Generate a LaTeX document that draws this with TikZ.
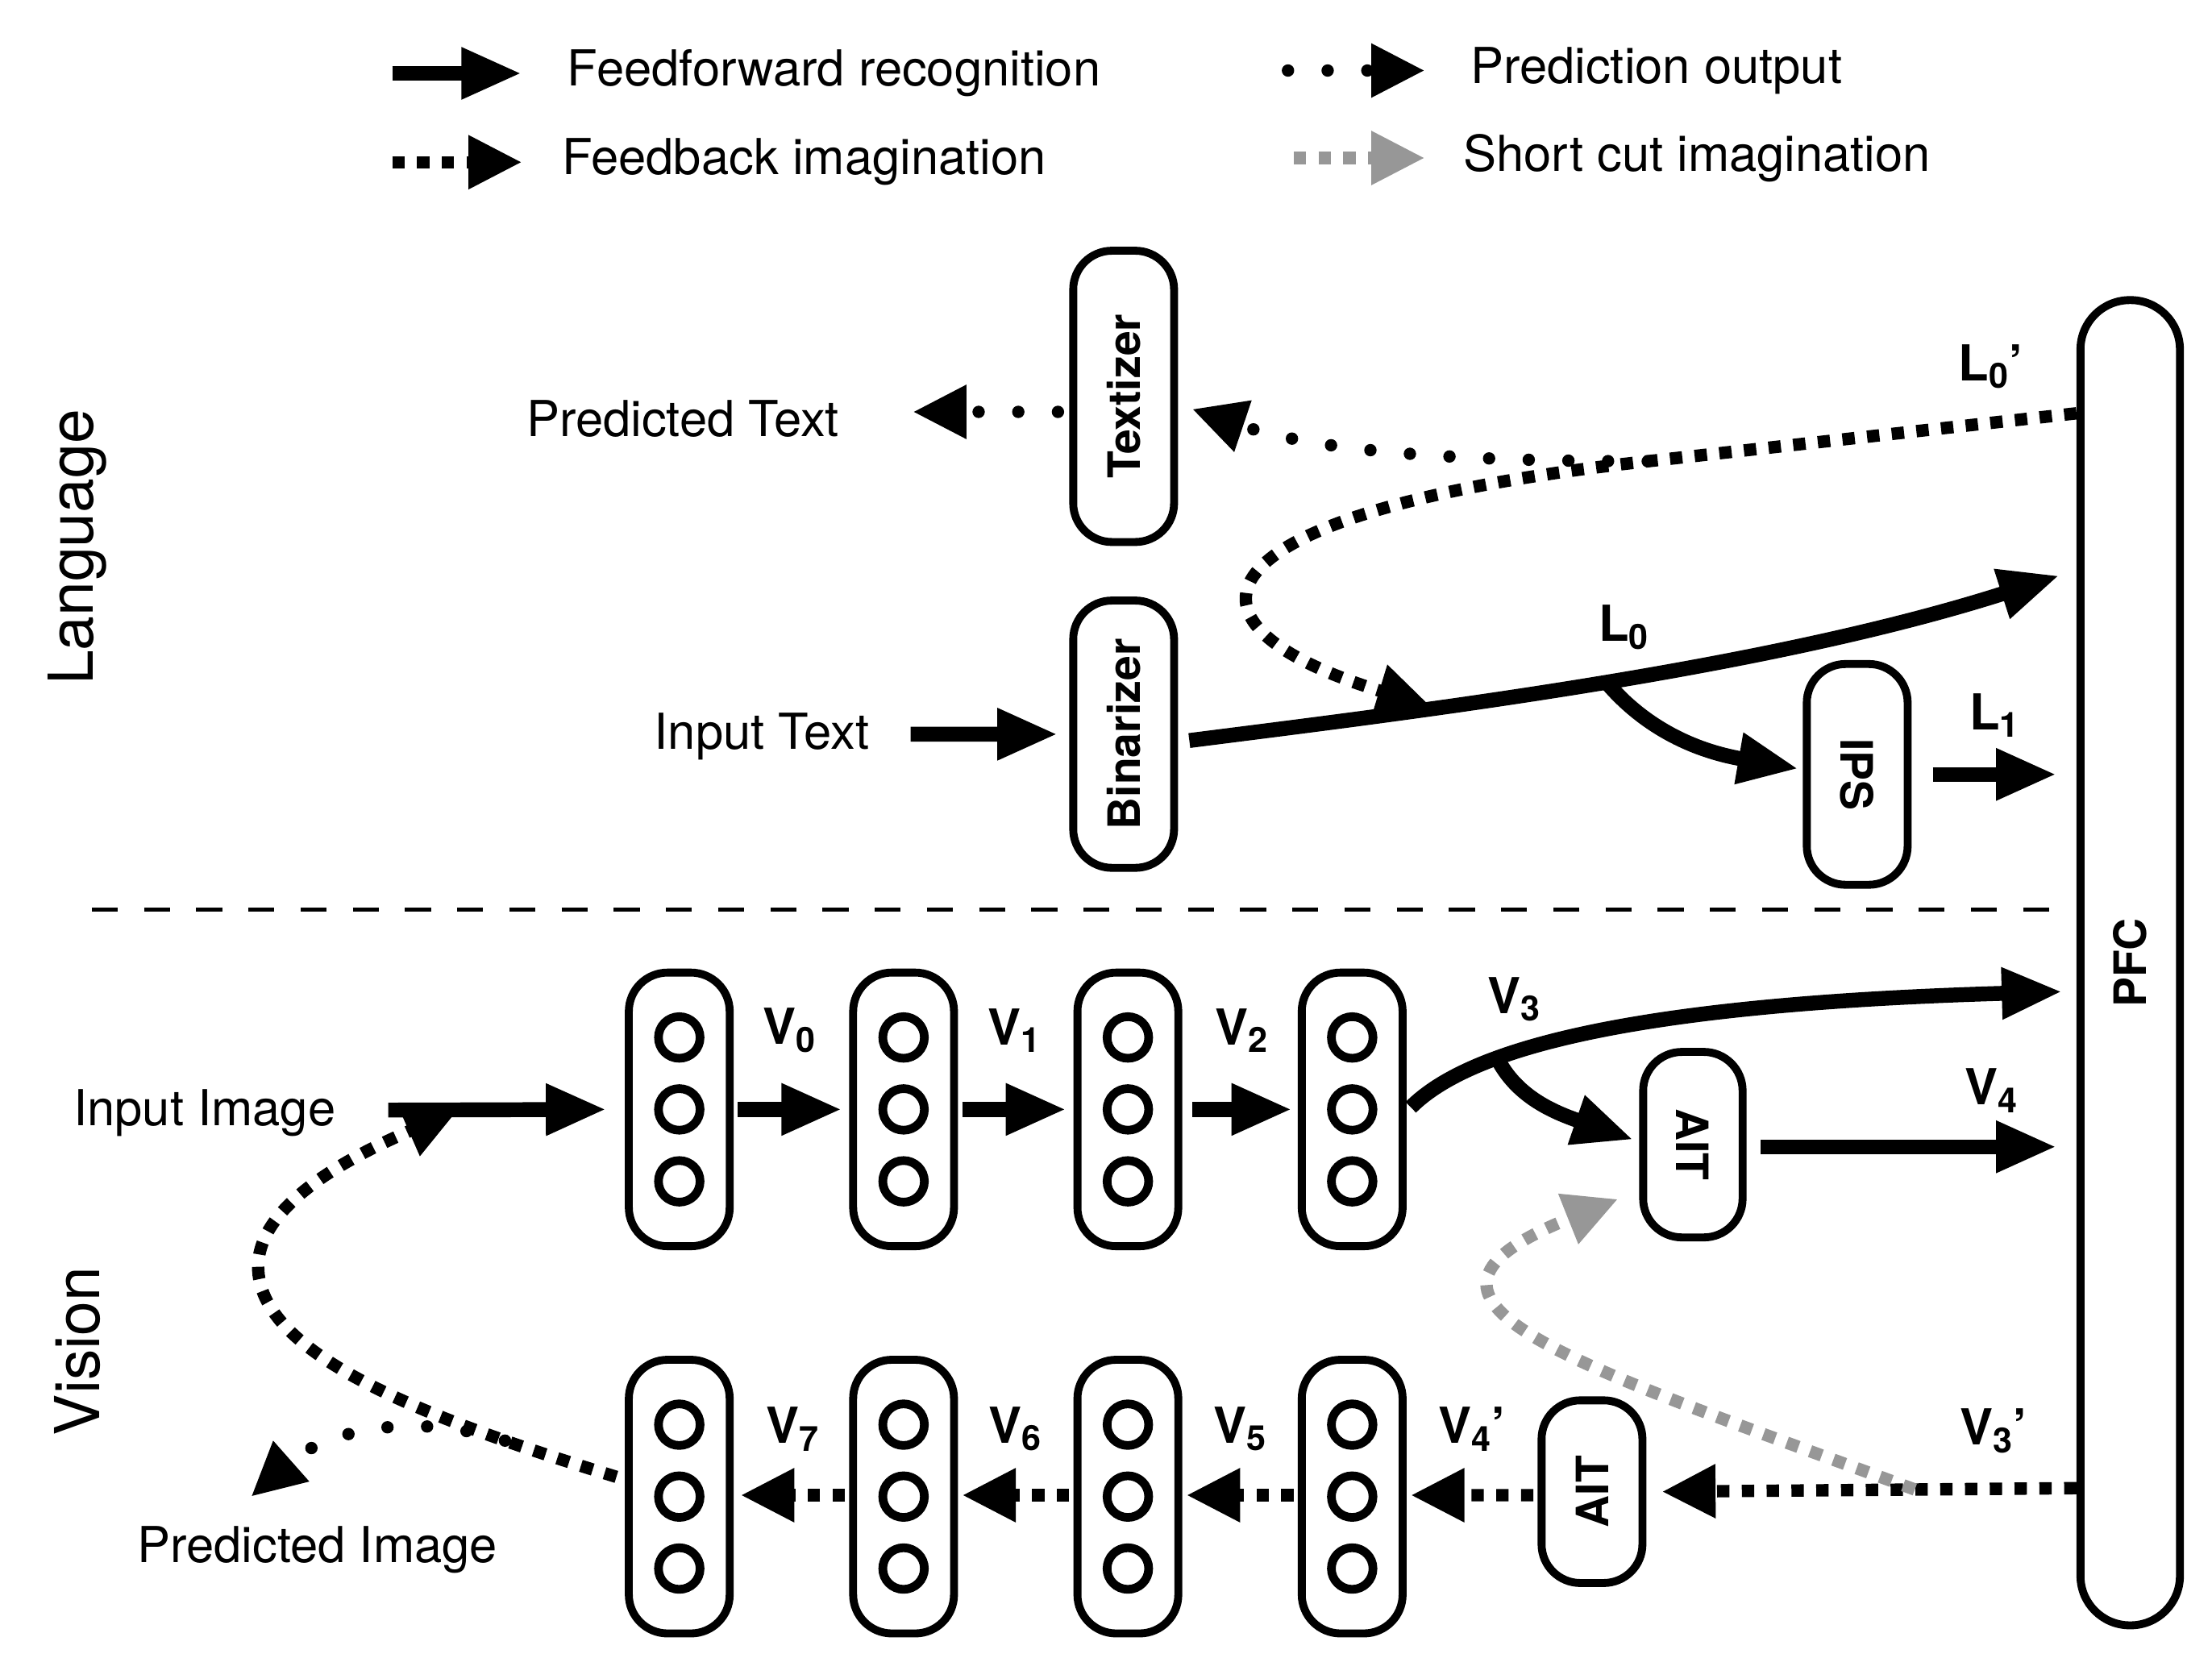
\documentclass[tikz,border=0pt]{standalone}
\usepackage{fontspec}
\setmainfont{TeX Gyre Heros}
\usetikzlibrary{arrows.meta,calc}
\definecolor{shortgray}{RGB}{151,151,151}
\tikzset{
    box/.style={draw, line width=3.2pt, rounded corners=5.5mm, minimum width=14.3mm,
        inner sep=0pt, font=\bfseries\fontsize{18}{21}\selectfont},
    layer/.style={box, minimum height=38.8mm},
    unit/.style={line width=3.5pt},
    ff/.style={line width=6pt, -{Triangle[length=8.6mm,width=6.8mm]}},
    fb/.style={line width=5pt, dash pattern=on 5pt off 5pt, -{Triangle[length=7.6mm,width=7.2mm]}},
    pred/.style={line width=5pt, line cap=round, dash pattern=on 0pt off 16pt,
        -{Triangle[length=7.6mm,width=7.2mm]}},
    short/.style={fb, draw=shortgray},
    lab/.style={inner sep=0pt, font=\bfseries\fontsize{20}{24}\selectfont},
    txt/.style={inner sep=0pt, font=\fontsize{20}{24}\selectfont}
}
\begin{document}
\begin{tikzpicture}[x=0.2mm, y=-0.2mm]
    \useasboundingbox (0,0) rectangle (1568,1175);
    \draw[ff] (278,52) -- (370,52) node[txt, right=5.4mm] (lgff) {Feedforward recognition};
    \draw[fb] (278,115) -- (370,115) node[txt, right=4.8mm] (lgfb) {Feedback imagination};
    \draw[pred] (913,50) -- (1010,50) node[txt, right=5.6mm] (lgpred) {Prediction output};
    \draw[short] (917,112) -- (1010,112) node[txt, right=4.6mm] (lgshort) {Short cut imagination};

    \node[txt, rotate=90, font=\fontsize{25}{30}\selectfont] (lang) at (55,388) {Language};
    \node[txt, rotate=90, font=\fontsize{25}{30}\selectfont] (vision) at (55,958) {Vision};
    \node[txt] (predtext) at (484,297) {Predicted Text};
    \node[txt] (intext) at (540,522) {Input Text};
    \node[txt] (inimg) at (145,789) {Input Image};
    \node[txt] (predimg) at (225,1099) {Predicted Image};

    \node[box, minimum height=41.3mm] (textz) at (796.5,281) {\rotatebox{90}{Textizer}};
    \node[box, minimum height=37.9mm] (binz) at (796.5,520.5) {\rotatebox{90}{Binarizer}};
    \node[box, minimum height=31.3mm] (ips) at (1316.5,549) {\rotatebox{-90}{IPS}};
    \node[box, minimum width=14.1mm, minimum height=26.3mm] (aitu) at (1200,811.5) {\rotatebox{-90}{AIT}};
    \node[box, minimum height=25.9mm] (aitl) at (1128.5,1057.5) {\rotatebox{90}{AIT}};
    \node[box, minimum width=14.1mm, minimum height=187.9mm, rounded corners=7mm] (pfc) at (1510,682.5) {\rotatebox{90}{PFC}};

    \draw[line width=1.5pt, dash pattern=on 3.7mm off 3.7mm] (65,645) -- (1460,645);

    \foreach \n/\x in {1/481.5, 2/640.5, 3/799.5, 4/958.5} {
        \node[layer] (up\n) at (\x,786.5) {};
        \node[layer] (dn\n) at (\x,1061) {};
        \foreach \r in {up,dn}
            \foreach \dy in {-51,0,51}
                \draw[unit] (\r\n.center) ++(0,\dy) circle[radius=2.95mm];
    }

    \draw[ff] ($(intext.east)+(29,-1.5)$) -- ($(binz.west)+(-8,0)$);
    \draw[ff] ($(binz.east)+(8,4.5)$) .. controls (1000,505) and (1250,475) .. ($(pfc.west)+(-12,-274.5)$)
        node[lab, pos=0.53, above=3mm] (l0) {L\textsubscript{0}}
        coordinate[pos=0.51] (l0split) coordinate[pos=0.32] (l0fb);
    \draw[ff] (l0split) .. controls (1165,515) and (1200,532) .. ($(ips.west)+(-3,-4)$);
    \draw[ff] ($(ips.east)+(15,0)$) -- node[lab, above=4.2mm] (l1) {L\textsubscript{1}} ($(pfc.west)+(-14,-133.5)$);
    \draw[fb, shorten >=0.8mm] ($(pfc.west)+(0,-389.5)$) -- node[lab, pos=0.2, above=4mm] (l0p) {L\textsubscript{0}’}
        (1168,327) coordinate (txsplit) .. controls (850,362) and (815,440) .. (l0fb);
    \draw[pred] (txsplit) .. controls (1050,327) and (940,322) .. ($(textz.east)+(10,9)$);
    \draw[pred] ($(textz.west)+(-8,11)$) -- ($(predtext.east)+(52,-5)$);

    \draw[ff] ($(inimg.east)+(37,-2)$) -- coordinate[pos=0.32] (imgfb) ($(up1.west)+(-13,0)$);
    \draw[ff] ($(up1.east)+(3,0)$) -- node[lab, above=7mm] (v0) {V\textsubscript{0}} ($(up2.west)+(-5,0)$);
    \draw[ff] ($(up2.east)+(3,0)$) -- node[lab, above=7mm] (v1) {V\textsubscript{1}} ($(up3.west)+(-5,0)$);
    \draw[ff] ($(up3.east)+(7,0)$) -- node[lab, above=7mm] (v2) {V\textsubscript{2}} ($(up4.west)+(-4,0)$);
    \draw[ff] ($(up4.east)+(3,-1.5)$) .. controls (1040,745) and (1150,712) .. ($(pfc.west)+(-10,20.5)$)
        node[lab, pos=0.35, above=3.4mm] (v3) {V\textsubscript{3}}
        coordinate[pos=0.31] (v3split);
    \draw[ff] (v3split) .. controls (1075,777) and (1100,788) .. ($(aitu.west)+(-4,-3.5)$);
    \draw[ff] ($(aitu.east)+(10,1.5)$) -- node[lab, pos=0.78, above=3.8mm] (v4) {V\textsubscript{4}} ($(pfc.west)+(-14,130.5)$);

    \draw[fb] ($(pfc.west)+(0,372.5)$) -- node[lab, pos=0.2, above=4.2mm] (v3p) {V\textsubscript{3}’}
        coordinate[pos=0.39] (scsplit) ($(aitl.east)+(11,0)$);
    \draw[short] (scsplit) .. controls (1105,963) and (967,922) .. ($(aitu.south west)+(-15,-30)$);
    \draw[fb] ($(aitl.west)+(-3,2.5)$) -- node[lab, above=5.4mm] (v4p) {V\textsubscript{4}’} ($(dn4.east)+(3,-1)$);
    \draw[fb] ($(dn4.west)+(-3,-1)$) -- node[lab, above=5.4mm] (v5) {V\textsubscript{5}} ($(dn3.east)+(3,-1)$);
    \draw[fb] ($(dn3.west)+(-3,-1)$) -- node[lab, above=5.4mm] (v6) {V\textsubscript{6}} ($(dn2.east)+(3,-1)$);
    \draw[fb] ($(dn2.west)+(-3,-1)$) -- node[lab, above=5.4mm] (v7) {V\textsubscript{7}} ($(dn1.east)+(5,-1)$);
    \draw[fb] ($(dn1.west)+(-6,-14)$) .. controls (300,1005) and (183,960) .. (183,898)
        coordinate[pos=0.2] (imgsplit) .. controls (183,850) and (260,815) .. (imgfb);
    \draw[pred] (imgsplit) .. controls (290,1000) and (230,1015) .. ($(predimg.north)+(-47,-21)$);
\end{tikzpicture}
\end{document}
